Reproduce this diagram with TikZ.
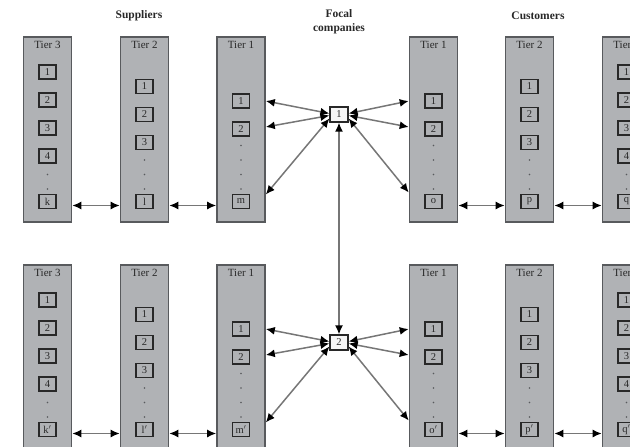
\documentclass[tikz,border=0pt]{standalone}
\usepackage{fontspec}
\setmainfont{Liberation Serif}
\usetikzlibrary{arrows.meta,calc}

\definecolor{colfill}{RGB}{176,178,181}
\definecolor{coledge}{RGB}{88,90,93}
\definecolor{linkgray}{RGB}{118,118,118}
\definecolor{inkgray}{RGB}{40,40,40}

\tikzset{
  tiercol/.style={draw=coledge, fill=colfill, line width=1.6pt,
    minimum width=48pt, inner sep=0pt, anchor=north},
  member/.style={draw=inkgray, line width=1.2pt, fill=colfill,
    minimum width=17pt, minimum height=14pt, inner sep=0pt,
    font=\fontsize{10.5}{11}\selectfont, text=inkgray},
  focal/.style={draw=inkgray, line width=1.2pt, fill=white!88!colfill,
    minimum width=18pt, minimum height=15pt, inner sep=0pt,
    font=\fontsize{10.5}{11}\selectfont, text=inkgray},
  tierlabel/.style={font=\fontsize{11}{12}\selectfont, text=inkgray},
  head/.style={font=\fontsize{11.5}{14}\selectfont\bfseries, text=inkgray, align=center},
  link/.style={draw=linkgray, line width=1.5pt,
    {Latex[length=9pt,width=8pt,color=black]}-{Latex[length=9pt,width=8pt,color=black]}},
  dotmark/.style={circle, fill=coledge, inner sep=0pt, minimum size=1.8pt}
}

% #1 name, #2 centre x, #3 top y, #4 height, #5 numbered members,
% #6 label of the last member, #7 tier title
\newcommand{\tiercolumn}[7]{%
  \node[tiercol, minimum height=#4] (#1) at (#2,#3) {};
  \node[tierlabel] (#1-t) at (#2,#3+9) {#7};
  \foreach \i in {1,...,#5}{
    \node[member] (#1-b\i) at (#2,{#3+36+(4-#5)*14.5+28*(\i-1)}) {\i};
  }
  \pgfmathtruncatemacro\ndots{5-#5}
  \foreach \j in {0,...,\ndots}{
    \node[dotmark] (#1-d\j) at (#2,{#3+153-14.5*\j}) {};
  }
  \node[member] (#1-last) at (#2,#3+165.5) {#6};
}

\begin{document}
\begin{tikzpicture}[x=1pt,y=-1pt]
  \useasboundingbox (0,0) rectangle (630,447);
  \clip (0,0) rectangle (630,447);

  % headings
  \node[head] (hs) at (139,16) {Suppliers};
  \node[head] (hf) at (339,22) {Focal\\companies};
  \node[head] (hc) at (538,16) {Customers};

  % upper chain
  \tiercolumn{S3}{47.5}{36}{185pt}{4}{k}{Tier 3}
  \tiercolumn{S2}{144.5}{36}{185pt}{3}{l}{Tier 2}
  \tiercolumn{S1}{241}{36}{185pt}{2}{m}{Tier 1}
  \tiercolumn{C1}{433.5}{36}{185pt}{2}{o}{Tier 1}
  \tiercolumn{C2}{529.5}{36}{185pt}{3}{p}{Tier 2}
  \tiercolumn{C3}{626.5}{36}{185pt}{4}{q}{Tier 3}

  % lower chain
  \tiercolumn{T3}{47.5}{264}{200pt}{4}{k$'$}{Tier 3}
  \tiercolumn{T2}{144.5}{264}{200pt}{3}{l$'$}{Tier 2}
  \tiercolumn{T1}{241}{264}{200pt}{2}{m$'$}{Tier 1}
  \tiercolumn{D1}{433.5}{264}{200pt}{2}{o$'$}{Tier 1}
  \tiercolumn{D2}{529.5}{264}{200pt}{3}{p$'$}{Tier 2}
  \tiercolumn{D3}{626.5}{264}{200pt}{4}{q$'$}{Tier 3}

  % focal companies
  \node[focal] (F1) at (339,114.5) {1};
  \node[focal] (F2) at (339,342.5) {2};

  % links between neighbouring tiers
  \foreach \a/\b in {S3/S2,S2/S1,C1/C2,C2/C3,T3/T2,T2/T1,D1/D2,D2/D3}{
    \draw[link] ($(\a.east |- \a-last)+(0,4)$) -- ($(\b.west |- \a-last)+(0,4)$);
  }

  % focal companies to their first-tier partners
  \foreach \f/\s/\c in {F1/S1/C1,F2/T1/D1}{
    \draw[link] ($(\f.west)+(0,-1)$) -- (\s.east |- \s-b1);
    \draw[link] ($(\f.west)+(0,1)$) -- ($(\s.east |- \s-b2)+(0,-2)$);
    \draw[link] ($(\f.west)+(0,4)$) -- ($(\s.east |- \s-last)+(0,-7)$);
    \draw[link] ($(\f.east)+(0,-1)$) -- (\c.west |- \c-b1);
    \draw[link] ($(\f.east)+(0,1)$) -- ($(\c.west |- \c-b2)+(0,-2)$);
    \draw[link] ($(\f.east)+(0,4)$) -- ($(\c.west |- \c-last)+(0,-9)$);
  }

  % link between the two focal companies
  \draw[link] (F1.south) -- (F2.north);
\end{tikzpicture}
\end{document}
